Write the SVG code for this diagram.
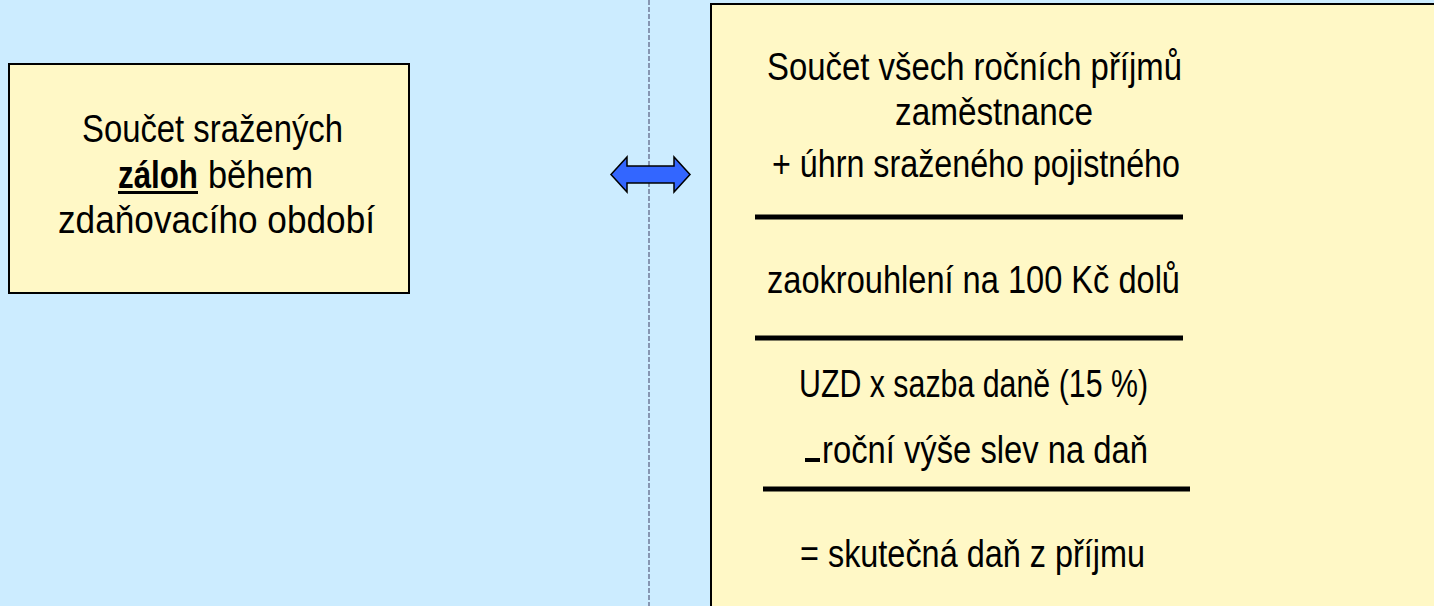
<svg xmlns="http://www.w3.org/2000/svg" width="1434" height="606" viewBox="0 0 1434 606">
<style>
.bg{fill:#CCECFF}
.box{fill:#FFF8C6;stroke:#000;stroke-width:2}
.t{font-family:"Liberation Sans",Arial,sans-serif;font-size:38px;fill:#000}
.rule{stroke:#000;stroke-width:5}
.div{stroke:#6F7A99;stroke-width:1.5;stroke-dasharray:5 2}
</style>
<rect class="bg" x="0" y="0" width="1434" height="606"/>
<line class="div" x1="649" y1="0" x2="649" y2="606"/>
<g id="left-box">
<rect class="box" x="9" y="64" width="400" height="229"/>
<text class="t" x="82" y="142" textLength="261" lengthAdjust="spacingAndGlyphs">Součet sražených</text>
<text class="t" x="118" y="188" textLength="80" lengthAdjust="spacingAndGlyphs" font-weight="bold">záloh</text>
<rect x="118" y="191" width="80" height="3" fill="#000"/>
<text class="t" x="208" y="188" textLength="105" lengthAdjust="spacingAndGlyphs">během</text>
<text class="t" x="58" y="233" textLength="317" lengthAdjust="spacingAndGlyphs">zdaňovacího období</text>
</g>
<g id="connectors">
<path d="M611,174.5 L627,157 L627,166 L674,166 L674,157 L690,174.5 L674,192 L674,183 L627,183 L627,192 Z" fill="#3366FF" stroke="#000" stroke-width="1.5" stroke-linejoin="miter"/>
</g>
<g id="right-box">
<rect class="box" x="711" y="4" width="740" height="620"/>
<text class="t" x="767" y="80" textLength="415" lengthAdjust="spacingAndGlyphs">Součet všech ročních příjmů</text>
<text class="t" x="895" y="125" textLength="198" lengthAdjust="spacingAndGlyphs">zaměstnance</text>
<text class="t" x="772" y="177" textLength="408" lengthAdjust="spacingAndGlyphs">+ úhrn sraženého pojistného</text>
<line class="rule" x1="755" y1="217" x2="1183" y2="217"/>
<text class="t" x="767" y="293" textLength="413" lengthAdjust="spacingAndGlyphs">zaokrouhlení na 100 Kč dolů</text>
<line class="rule" x1="755" y1="338" x2="1183" y2="338"/>
<text class="t" x="799" y="397" textLength="349" lengthAdjust="spacingAndGlyphs">UZD x sazba daně (15 %)</text>
<rect x="805" y="458" width="15" height="4" fill="#000"/>
<text class="t" x="822" y="463" textLength="326" lengthAdjust="spacingAndGlyphs">roční výše slev na daň</text>
<line class="rule" x1="763" y1="489" x2="1190" y2="489"/>
<text class="t" x="800" y="567" textLength="345" lengthAdjust="spacingAndGlyphs">= skutečná daň z příjmu</text>
</g>
</svg>
